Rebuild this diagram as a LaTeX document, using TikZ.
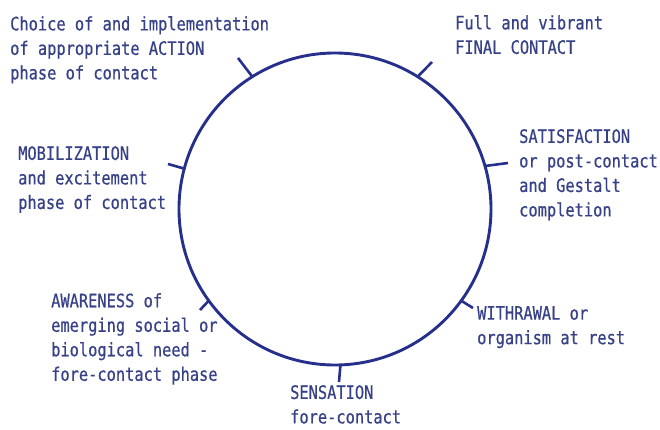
\documentclass[tikz,border=0pt]{standalone}
\usepackage{fontspec}
\usepackage{tikz}
\usetikzlibrary{arrows}
\usetikzlibrary{shapes}
\newfontfamily\cyclefont[FakeStretch=0.83, FakeBold=0.6]{DejaVu Sans Mono}
\definecolor{ringblue}{RGB}{38,48,140}
\definecolor{labelblue}{RGB}{55,65,135}

\begin{document}
\begin{tikzpicture}[x=1pt, y=1pt,
    phase/.style={anchor=north west, inner sep=0, align=left, text=labelblue,
        font=\fontsize{18.5}{24.5}\selectfont\cyclefont},
    tick/.style={draw=ringblue, line width=2.6pt}]
    \useasboundingbox (-335,-220) rectangle (325,209);
    \node[draw=ringblue, line width=2.9pt, circle, minimum size=312pt, inner sep=0, outer sep=0] (C) at (0,0) {};

    \node[phase] (Act) at (-325,193) {Choice of and implementation\\of appropriate ACTION\\phase of contact};
    \node[phase] (Fin) at (120,194) {Full and vibrant\\FINAL CONTACT};
    \node[phase] (Sat) at (184,80) {SATISFACTION\\or post-contact\\and Gestalt\\completion};
    \node[phase] (Mob) at (-317,63) {MOBILIZATION\\and excitement\\phase of contact};
    \node[phase] (Awa) at (-284,-84) {AWARENESS of\\emerging social or\\biological need -\\fore-contact phase};
    \node[phase] (Sen) at (-45,-176) {SENSATION\\fore-contact};
    \node[phase] (Wdr) at (142,-97) {WITHRAWAL or\\organism at rest};

    \coordinate (ActT) at (-97,151);
    \coordinate (FinT) at (97,147);
    \coordinate (SatT) at (173,46);
    \coordinate (MobT) at (-167,45);
    \coordinate (AwaT) at (-135,-101);
    \coordinate (SenT) at (4,-173);
    \coordinate (WdrT) at (138,-99);

    \draw[tick] (C.122) to (ActT);
    \draw[tick] (C.58) to (FinT);
    \draw[tick] (C.16) to (SatT);
    \draw[tick] (C.165) to (MobT);
    \draw[tick] (C.216) to (AwaT);
    \draw[tick] (C.272) to (SenT);
    \draw[tick] (C.324) to (WdrT);
\end{tikzpicture}
\end{document}
